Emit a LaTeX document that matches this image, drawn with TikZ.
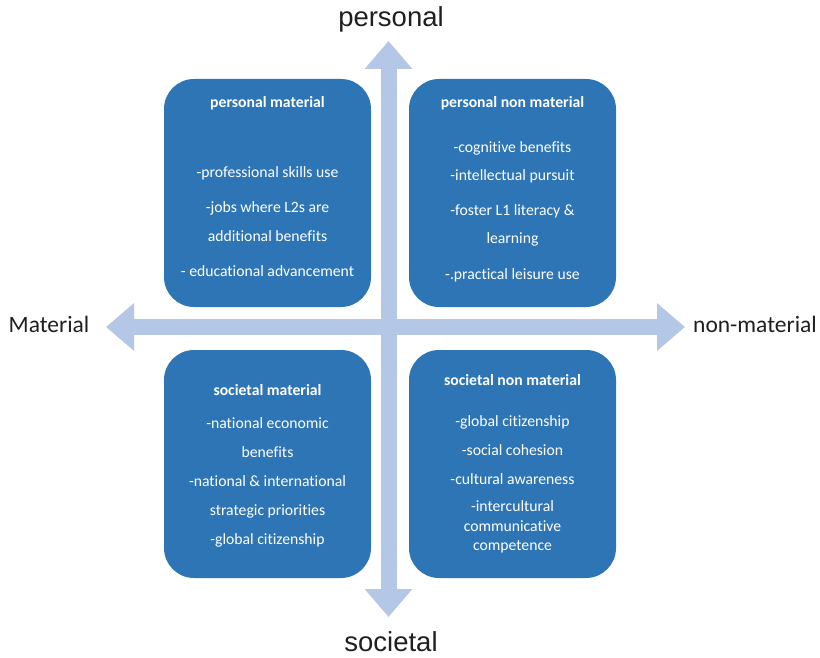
\documentclass[tikz,border=0pt]{standalone}
\usepackage{fontspec}
\setmainfont[Ligatures=NoCommon]{Carlito}
\newfontfamily\axisfont{Liberation Sans}
\usetikzlibrary{arrows.meta}

\definecolor{boxblue}{HTML}{2E75B6}
\definecolor{axisblue}{HTML}{B4C7E7}
\definecolor{labelgray}{HTML}{1F1F1F}

\tikzset{
  quadbox/.style={fill=boxblue, draw=none, rounded corners=30pt,
    minimum width=207pt, minimum height=228pt, inner sep=0pt},
  boxtitle/.style={anchor=base, text=white, inner sep=0pt,
    font=\fontsize{15.7}{18}\selectfont\bfseries},
  boxline/.style={anchor=base, text=white, inner sep=0pt,
    font=\fontsize{15.7}{18}\selectfont},
  axisarrow/.style={draw=axisblue, line width=16pt,
    {Triangle[width=46pt,length=28pt]}-{Triangle[width=46pt,length=28pt]}},
  poleV/.style={anchor=base, text=labelgray, inner sep=0pt,
    font=\axisfont\fontsize{27.5}{30}\selectfont},
  poleH/.style={anchor=base, text=labelgray, inner sep=0pt,
    font=\fontsize{23.5}{26}\selectfont}
}

\begin{document}
\begin{tikzpicture}[x=1pt, y=-1pt]
  \useasboundingbox (0,0) rectangle (820,658);

  % axis end points
  \coordinate (axTop) at (388.5,41);
  \coordinate (axBottom) at (388.5,617);
  \coordinate (axLeft) at (106,327);
  \coordinate (axRight) at (685,327);

  % the two axes
  \draw[axisarrow] (axTop) -- (axBottom);
  \draw[axisarrow] (axLeft) -- (axRight);

  % pole labels
  \node[poleV] (lblPersonal) at (391,27) {personal};
  \node[poleV] (lblSocietal) at (391,651.7) {societal};
  \node[poleH] (lblMaterial) at (49,332) {Material};
  \node[poleH] (lblNonMaterial) at (755,332) {non-material};

  % quadrant boxes
  \node[quadbox] (pm)  at (267.5,193) {};
  \node[quadbox] (pnm) at (512.5,193) {};
  \node[quadbox] (sm)  at (267.5,464) {};
  \node[quadbox] (snm) at (512.5,464) {};

  % personal material
  \node[boxtitle] (pmT) at (267.5,107.7) {personal material};
  \node[boxline] (pm1) at (267.5,178) {-professional skills use};
  \node[boxline] (pm2) at (267.5,212.7) {-jobs where L2s are};
  \node[boxline] (pm3) at (267.5,241.7) {additional benefits};
  \node[boxline] (pm4) at (267.5,276.7) {- educational advancement};

  % personal non material
  \node[boxtitle] (pnmT) at (512.5,107.7) {personal non material};
  \node[boxline] (pnm1) at (512.5,152.3) {-cognitive benefits};
  \node[boxline] (pnm2) at (512.5,181) {-intellectual pursuit};
  \node[boxline] (pnm3) at (512.5,215) {-foster L1 literacy \&};
  \node[boxline] (pnm4) at (512.5,243.3) {learning};
  \node[boxline] (pnm5) at (512.5,279) {-.practical leisure use};

  % societal material
  \node[boxtitle] (smT) at (267.5,395) {societal material};
  \node[boxline] (sm1) at (267.5,428.3) {-national economic};
  \node[boxline] (sm2) at (267.5,457.3) {benefits};
  \node[boxline] (sm3) at (267.5,486.7) {-national \& international};
  \node[boxline] (sm4) at (267.5,515) {strategic priorities};
  \node[boxline] (sm5) at (267.5,544) {-global citizenship};

  % societal non material
  \node[boxtitle] (snmT) at (512.5,385) {societal non material};
  \node[boxline] (snm1) at (512.5,426) {-global citizenship};
  \node[boxline] (snm2) at (512.5,455) {-social cohesion};
  \node[boxline] (snm3) at (512.5,484.3) {-cultural awareness};
  \node[boxline] (snm4) at (512.5,511.7) {-intercultural};
  \node[boxline] (snm5) at (512.5,531) {communicative};
  \node[boxline] (snm6) at (512.5,550.7) {competence};
\end{tikzpicture}
\end{document}
